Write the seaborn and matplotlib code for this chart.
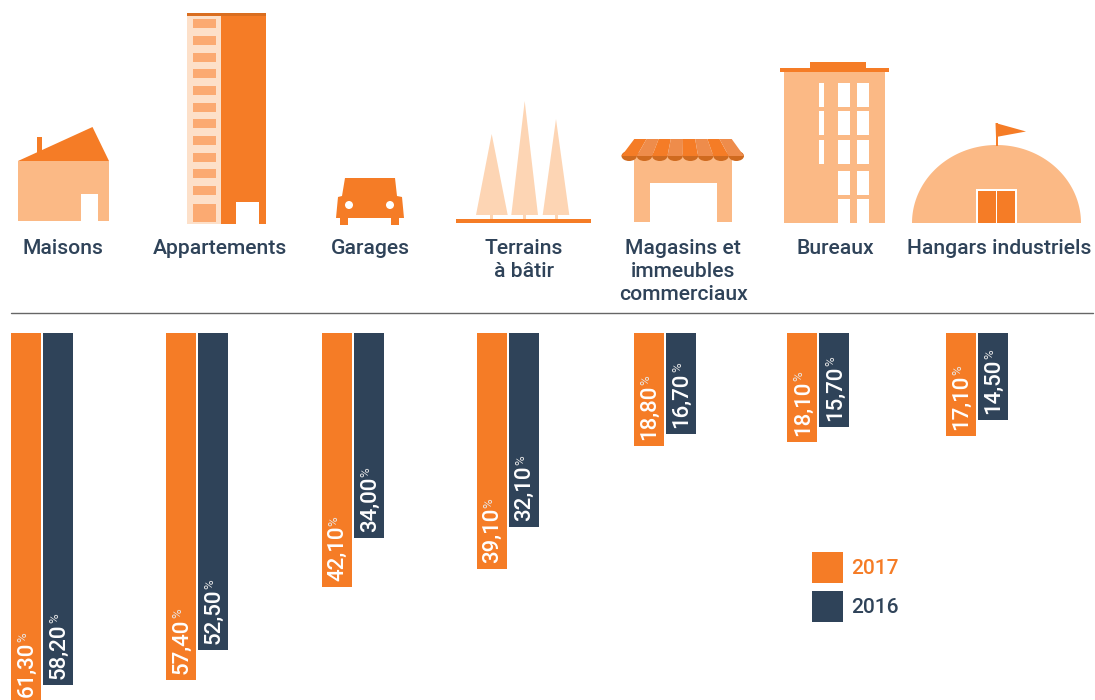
import numpy as np
import pandas as pd
import matplotlib
matplotlib.use('Agg')
import matplotlib.pyplot as plt
import matplotlib.patches as mp
import seaborn as sns

categories = ['Maisons', 'Appartements', 'Garages', 'Terrains\nà bâtir',
              'Magasins et\nimmeubles\ncommerciaux', 'Bureaux', 'Hangars industriels']
years = ['2017', '2016']
values_2017 = [61.3, 57.4, 42.1, 39.1, 18.8, 18.1, 17.1]
values_2016 = [58.2, 52.5, 34.0, 32.1, 16.7, 15.7, 14.5]

ORANGE = '#F57C26'
DARK = '#2F4359'
LIGHT = '#FBB985'
PALE = '#FDD5B4'
W, H = 1095, 700

sns.set_theme(style='white')
plt.rcParams['font.family'] = ['Roboto', 'DejaVu Sans']
fig = plt.figure(figsize=(W / 100, H / 100), dpi=100, facecolor='white')

# pixel coordinate layer for the pictograms and the labels above the bars
bg = fig.add_axes([0, 0, 1, 1])
bg.set_xlim(0, W)
bg.set_ylim(H, 0)
bg.axis('off')


def rect(x0, y0, x1, y1, color, z=2):
    bg.add_patch(mp.Rectangle((x0, y0), x1 - x0, y1 - y0, fc=color, ec='none', zorder=z))


def poly(pts, color, z=2):
    bg.add_patch(mp.Polygon(pts, closed=True, fc=color, ec='none', zorder=z))


# house
rect(18, 161, 109, 221, LIGHT)
poly([(18, 161), (92.5, 127), (109, 161)], ORANGE)
rect(37, 137, 42, 156, ORANGE)
rect(81, 194, 98, 221, 'white', 3)

# flats
rect(187, 16, 221, 224, '#FDE0C9')
rect(221, 16, 266, 224, ORANGE)
rect(187, 13, 266, 16, '#D96E20')
for y0, y1 in [(19, 28), (36, 45), (53, 62), (69, 78), (86, 95), (103, 112), (119, 128),
               (136, 145), (153, 162), (169, 178), (186, 195), (204, 222)]:
    rect(193, y0, 216, y1, '#FBAA72', 3)
rect(236, 202, 259, 224, 'white', 3)

# car
poly([(345, 178), (395, 178), (397, 196), (402, 197), (404, 218),
      (336, 218), (338, 197), (342, 196)], ORANGE)
rect(340, 218, 348, 225, ORANGE)
rect(391, 218, 399, 225, ORANGE)
bg.add_patch(mp.Circle((349, 205), 4, fc='white', ec='none', zorder=3))
bg.add_patch(mp.Circle((390, 205), 4, fc='white', ec='none', zorder=3))

# land
rect(456, 219, 591, 223, ORANGE)
for apex, left, right in [((491.7, 134), 476, 507.7), ((524.7, 101), 511.3, 538), ((556, 119), 542.7, 569.3)]:
    poly([apex, (left, 215), (right, 215)], PALE)
    rect(apex[0] - 1.5, 215, apex[0] + 1.5, 219, PALE)

# shop
rect(634.3, 155, 731.7, 222, LIGHT)
rect(650, 183, 717, 222, 'white', 3)
top_x = np.linspace(634.3, 731.7, 9)
bot_x = np.linspace(621.5, 744, 9)
for i in range(8):
    bg.add_patch(mp.Ellipse(((bot_x[i] + bot_x[i + 1]) / 2, 156), bot_x[1] - bot_x[0], 10,
                            fc='#CF6A1F', ec='none', zorder=3))
    poly([(top_x[i], 139), (top_x[i + 1], 139), (bot_x[i + 1], 156), (bot_x[i], 156)],
         ORANGE if i % 2 == 0 else '#EE8C4B', 4)

# offices
rect(784, 72, 885, 223, LIGHT)
rect(780, 68, 889, 72, ORANGE)
rect(810, 62, 866, 68, ORANGE)
for row, (y0, y1) in enumerate([(83, 107), (111, 135), (140, 164), (171, 195), (199, 223)]):
    rect(838, y0, 850, y1, 'white', 3)
    rect(857, y0, 869, y1, 'white', 3)
    if row < 3:
        rect(819, y0, 824, y1, 'white', 3)

# hangar
t = np.linspace(0, np.pi, 120)
poly(np.column_stack([996.5 + 84.5 * np.cos(t), 223 - 78 * np.sin(t)]), LIGHT)
rect(976, 189, 1017, 223, 'white', 3)
rect(978, 191, 996, 223, ORANGE, 4)
rect(997, 191, 1015, 223, ORANGE, 4)
rect(995.5, 123, 997.5, 146, ORANGE)
poly([(995.5, 123), (1026, 131.5), (996, 137)], ORANGE)

label_x = [63, 220, 370, 524, 683, 835, 999]
for name, x in zip(categories, label_x):
    bg.text(x, 239, name, ha='center', va='top', fontsize=15.2, fontweight='medium',
            color=DARK, linespacing=1.25)

bg.plot([11, 1093], [313, 313], color='#666666', lw=1)

# bars: one small axes per category, they are not evenly spaced in the source
group_left = [10, 165, 321, 476, 633, 786, 945]
AX_W, TOP, PX_PER_UNIT = 64, 332.5, 6.05
for left, v17, v16 in zip(group_left, values_2017, values_2016):
    df = pd.DataFrame({'annee': years, 'valeur': [v17, v16]})
    ax = fig.add_axes([left / W, 0, AX_W / W, (H - TOP) / H])
    sns.barplot(data=df, x='annee', y='valeur', hue='annee', order=years, hue_order=years,
                palette=[ORANGE, DARK], width=30 / 32, dodge=False, legend=False, saturation=1,
                linewidth=0, ax=ax)
    ax.set_xlim(-0.5, 1.5)
    ax.set_ylim((H - TOP) / PX_PER_UNIT, 0)
    ax.axis('off')
    ax.patch.set_alpha(0)
    for bar in ax.patches:
        val = bar.get_height()
        if val == 0 or np.isnan(val):
            continue
        txt = ax.annotate(f'{val:.2f}'.replace('.', ','),
                          xy=(bar.get_x() + bar.get_width() / 2, val), xycoords='data',
                          xytext=(1, 6), textcoords='offset pixels', ha='center', va='bottom',
                          rotation=90, color='white', fontsize=16, fontweight='medium',
                          annotation_clip=False)
        ax.annotate('%', xy=(0, 1), xycoords=txt, xytext=(0, 0), textcoords='offset pixels',
                    ha='left', va='bottom', rotation=90, color='#E8E8E8', fontsize=9.5,
                    annotation_clip=False)

handles = [mp.Patch(color=ORANGE, lw=0), mp.Patch(color=DARK, lw=0)]
fig.legend(handles, years, loc='upper left', bbox_to_anchor=(812 / W, 1 - 552 / H),
           frameon=False, prop={'size': 15, 'weight': 'medium'}, handlelength=1.48,
           handleheight=1.91, labelspacing=0.37, handletextpad=0.4, borderpad=0,
           borderaxespad=0, labelcolor=[ORANGE, DARK])

fig.savefig('out.png', dpi=100)
